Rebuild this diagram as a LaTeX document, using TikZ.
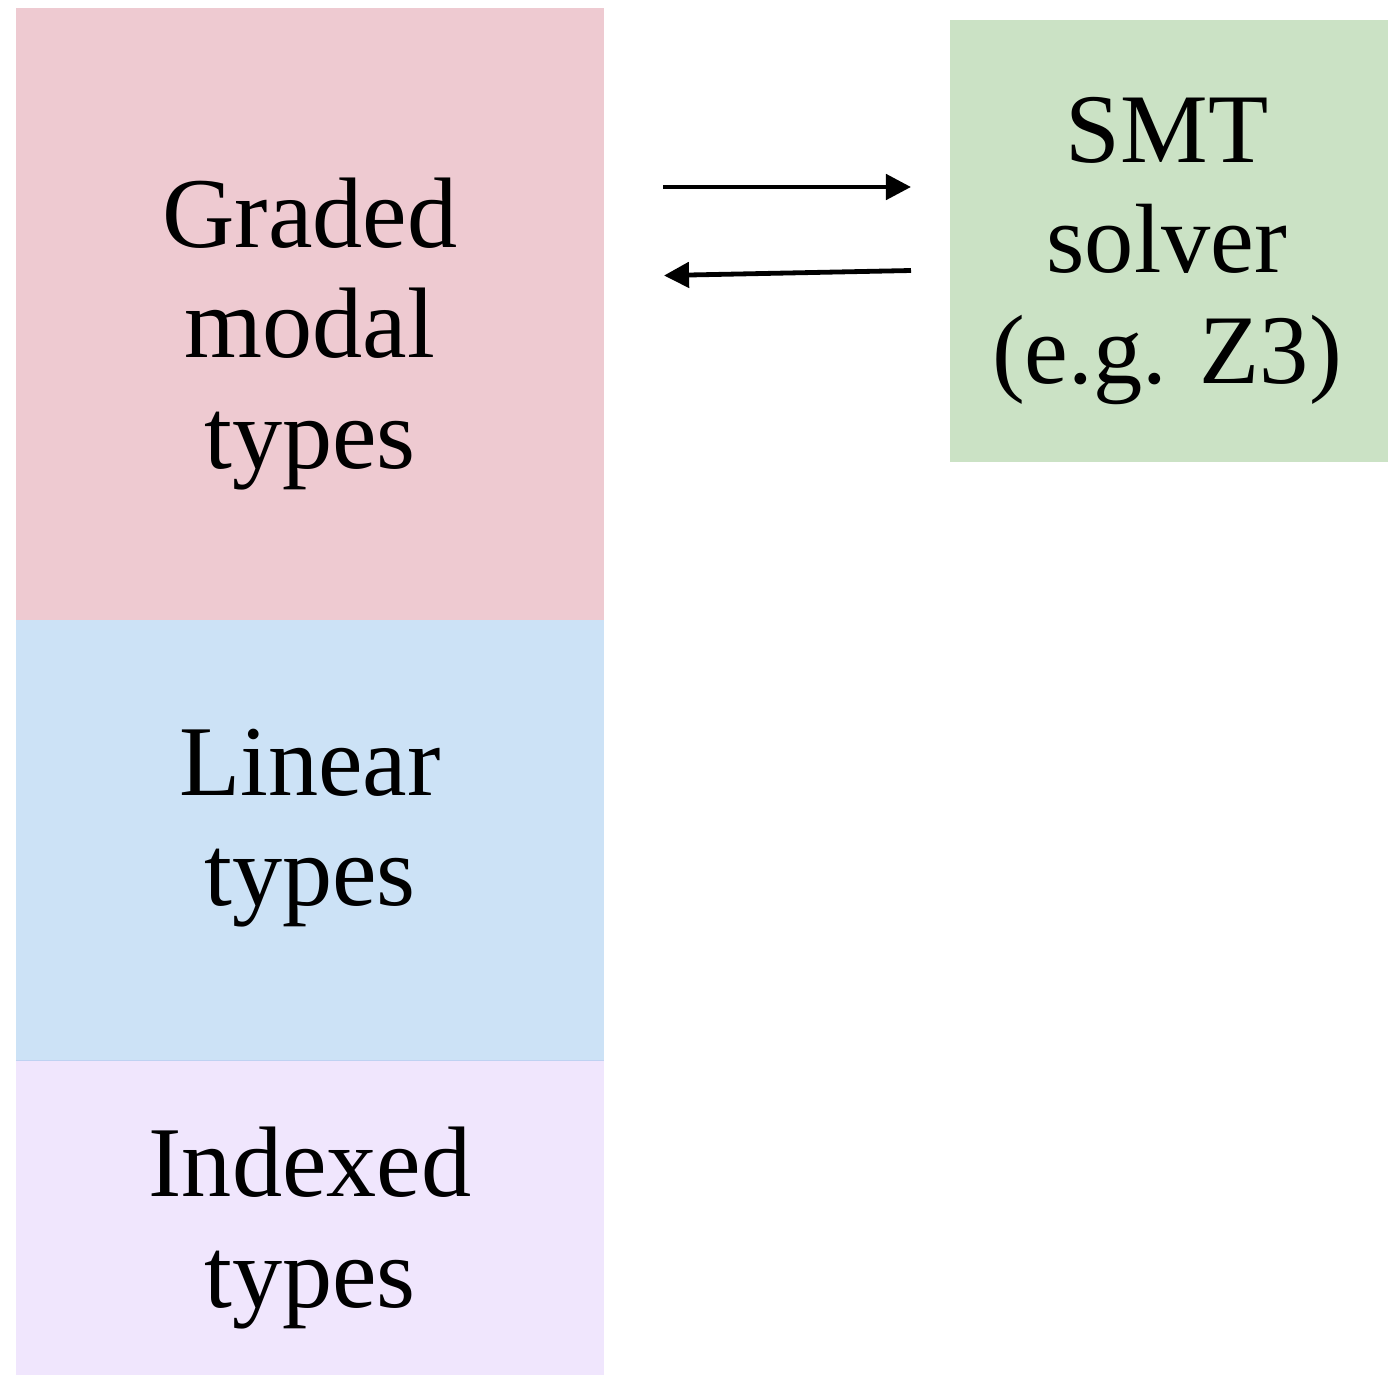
\documentclass[tikz,border=0pt]{standalone}
\usepackage{fontspec}
\setmainfont{Liberation Serif}
\usetikzlibrary{arrows.meta}
\definecolor{pinkc}{HTML}{EECAD1}
\definecolor{bluec}{HTML}{CCE2F6}
\definecolor{lavc}{HTML}{F0E6FD}
\definecolor{greenc}{HTML}{CBE2C5}
\definecolor{edgec}{HTML}{BFD2F2}
\tikzset{
  box/.style={draw=none, inner sep=0pt, outer sep=0pt},
  lbl/.style={align=center, inner sep=0pt, font=\fontsize{28.5pt}{31.3pt}\selectfont},
  arr/.style={line width=0.048cm, -{Triangle[length=0.25cm, width=0.25cm]}}
}
\begin{document}
\begin{tikzpicture}[x=0.01cm, y=-0.01cm]
\useasboundingbox (0,0) rectangle (1399,1375);
\node[box, fill=pinkc, minimum width=5.88cm, minimum height=6.12cm] (pink) at (310,314) {};
\node[box, fill=bluec, minimum width=5.88cm, minimum height=4.40cm] (blue) at (310,840) {};
\node[box, fill=lavc, minimum width=5.88cm, minimum height=3.15cm] (lav) at (310,1217.5) {};
\node[box, fill=greenc, minimum width=4.38cm, minimum height=4.42cm] (green) at (1169,241) {};
\draw[edgec, line width=0.01cm] (blue.south west) -- (blue.south east);
\node[lbl] (t1) at (310,334) {Graded\\modal\\types};
\node[lbl] (t2) at (310,828) {Linear\\types};
\node[lbl] (t3) at (310,1228) {Indexed\\types};
\node[lbl, font=\fontsize{28pt}{31.3pt}\selectfont] (t4) at (1167,251) {SMT\\solver\\(e.g. Z3)};
\coordinate (a1s) at (663,187);
\coordinate (a1e) at (911,187);
\coordinate (a2s) at (911,270.5);
\coordinate (a2e) at (664,275.5);
\draw[arr] (a1s) -- (a1e);
\draw[arr] (a2s) -- (a2e);
\end{tikzpicture}
\end{document}
